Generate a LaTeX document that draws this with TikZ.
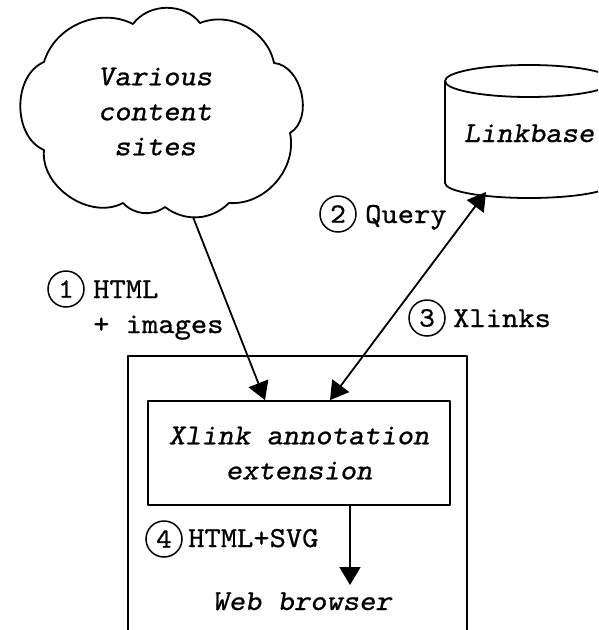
\documentclass[tikz,border=0pt]{standalone}
\usepackage{fontspec}
\setmonofont[FakeStretch=1.07, FakeBold=0.8, ItalicFont=lmmonoslant10-regular.otf, ItalicFeatures={FakeStretch=1.07, FakeBold=0.8}]{lmmono10-regular.otf}
\usetikzlibrary{arrows.meta}
\begin{document}
\begin{tikzpicture}[x=1pt,y=1pt,
  every node/.style={font=\ttfamily\fontsize{29}{35}\selectfont},
  lbl/.style={inner sep=0pt},
  ital/.style={inner sep=0pt,font=\ttfamily\itshape\fontsize{29}{35}\selectfont},
  num/.style={circle,draw,line width=1.5pt,minimum size=36pt,inner sep=0pt,font=\ttfamily\fontsize{28}{30}\selectfont},
  shapeline/.style={line width=1.8pt,line join=round},
  conn/.style={line width=1.8pt,-{Triangle[length=18pt,width=21pt]}},
  dconn/.style={line width=1.8pt,{Triangle[length=18pt,width=21pt]}-{Triangle[length=18pt,width=21pt]}}]
\useasboundingbox (0,0) rectangle (598,-630);
\clip (0,0) rectangle (598,-630);
% cloud
\draw[shapeline] (44,-62) to[bend left=50] (133,-24) to[bend left=53] (200,-23)
  to[bend left=50] (274,-63) to[bend left=72] (290,-133) to[bend left=53] (229,-203)
  to[bend left=41] (165,-207) to[bend left=41] (123,-203) to[bend left=62] (44,-150)
  to[bend left=67] (44,-62) -- cycle;
\node[ital, align=center] (cloud) at (155,-111.5) {Various\\content\\sites};
\coordinate (cb) at (193,-217);
% linkbase cylinder
\draw[shapeline] (529,-81) ellipse[x radius=84, y radius=16];
\draw[shapeline] (445,-81) -- (445,-183) arc[start angle=180,end angle=360,x radius=84,y radius=15] -- (613,-81);
\node[ital, anchor=base] (lb) at (529,-142) {Linkbase};
\coordinate (lbb) at (486,-192);
% browser
\node[draw, shapeline, minimum width=339pt, minimum height=320pt, inner sep=0pt] (wb) at (297.5,-516) {};
\node[ital, anchor=base] (wbl) at (302,-610) {Web browser};
\node[draw, shapeline, minimum width=302pt, minimum height=104pt, inner sep=0pt, align=center,
  font=\ttfamily\itshape\fontsize{29}{35}\selectfont] (ext) at (299,-453) {Xlink annotation\\extension};
\coordinate (t4) at (350,-585);
% labels
\node[num] (n1) at (66,-289) {1};
\node[lbl, anchor=west, align=left] (l1) at (93,-310) {HTML\\+ images};
\node[num] (n2) at (338,-214) {2};
\node[lbl, anchor=base west] (l2) at (365,-223) {Query};
\node[num] (n3) at (427,-318) {3};
\node[lbl, anchor=base west] (l3) at (453,-327) {Xlinks};
\node[num] (n4) at (164,-539) {4};
\node[lbl, anchor=base west] (l4) at (188,-547) {HTML+SVG};
% connectors
\draw[conn] (cb) -- ([xshift=-34pt]ext.north);
\draw[dconn] ([xshift=31pt]ext.north) -- (lbb);
\draw[conn] ([xshift=51pt]ext.south) -- (t4);
\end{tikzpicture}
\end{document}
